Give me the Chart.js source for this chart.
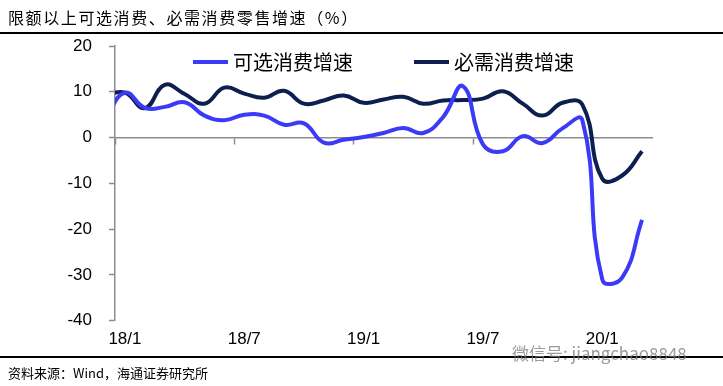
<!DOCTYPE html>
<html>
<head>
<meta charset="utf-8">
<script src="https://cdn.jsdelivr.net/npm/chart.js@4.4.1/dist/chart.umd.min.js"></script>
<style>
  body { margin: 0; background: #fff; }
  #wrap { position: relative; width: 723px; height: 386px; overflow: hidden; }
  #chart { position: absolute; left: 0; top: 0; }
  .title { position: absolute; left: 8px; top: 5px; font: 16px "Noto Sans CJK SC"; letter-spacing: 1.6px; color: #000; }
  .rule { position: absolute; left: 0; width: 723px; height: 0; border-top: 2px solid #000; }
  .source { position: absolute; left: 8px; top: 363px; font: 13px "Noto Sans CJK SC"; color: #000; }
  .mark { position: absolute; left: 512px; top: 340px; font: 17px "Noto Sans CJK SC"; color: rgba(120,120,120,0.75); }
</style>
</head>
<body>
<div id="wrap">
  <canvas id="chart" width="723" height="386"></canvas>
  <div class="title">限额以上可选消费、必需消费零售增速（%）</div>
  <div class="rule" style="top:32px"></div>
  <div class="rule" style="top:356px"></div>
  <div class="source">资料来源：Wind，海通证券研究所</div>
  <div class="mark">微信号: jiangchao8848</div>
</div>
<script>
// monthly, first entry (17/12) sits just left of the axis and gets clipped
var months = ["17/12",
  "18/1", "18/2", "18/3", "18/4", "18/5", "18/6", "18/7", "18/8", "18/9", "18/10", "18/11", "18/12",
  "19/1", "19/2", "19/3", "19/4", "19/5", "19/6", "19/7", "19/8", "19/9", "19/10", "19/11", "19/12",
  "20/1", "20/2", "20/3"];
var optionalGrowth = [4.0,
  9.8, 6.5, 6.7, 7.7, 4.8, 3.8, 5.0, 4.8, 2.8, 3.1, -1.1, -0.5,
  0.1, 1.0, 2.1, 1.0, 4.5, 11.2, -1.5, -3.0, 0.3, -1.2, 2.0, 3.8,
  -31.0, -30.6, -18.0];
var necessaryGrowth = [9.3,
  9.8, 6.4, 11.5, 9.5, 7.4, 10.9, 9.6, 8.7, 10.2, 7.4, 8.1, 9.2,
  7.6, 8.3, 8.9, 7.4, 8.1, 8.2, 8.5, 10.1, 7.4, 4.8, 7.6, 7.2,
  -9.0, -8.3, -3.0];
var yTicks = [-40, -30, -20, -10, 0, 10, 20];

var axisGray = '#8c8c8c';
var tickFont = { family: 'Arial, "Liberation Sans"', size: 17 };

// legend drawn inside the plot, centred near the top
var innerLegend = {
    id: 'innerLegend',
    afterDatasetsDraw: function (chart) {
        var ctx = chart.ctx;
        var area = chart.chartArea;
        var sets = chart.data.datasets;
        var sample = 35, gap = 5, between = 61;
        ctx.save();
        ctx.font = '20px "Noto Sans CJK SC"';
        var widths = sets.map(function (ds) { return sample + gap + ctx.measureText(ds.label).width; });
        var total = widths.reduce(function (a, b) { return a + b; }, 0) + between * (sets.length - 1);
        var x = (area.left + area.right) / 2 - total / 2;
        var y = area.top + 16;
        sets.forEach(function (ds, i) {
            ctx.strokeStyle = ds.borderColor;
            ctx.lineWidth = 4;
            ctx.beginPath();
            ctx.moveTo(x, y);
            ctx.lineTo(x + sample, y);
            ctx.stroke();
            ctx.fillStyle = '#000';
            ctx.textBaseline = 'middle';
            ctx.fillText(ds.label, x + sample + gap, y);
            x += widths[i] + between;
        });
        ctx.restore();
    }
};

var ctx = document.getElementById('chart').getContext('2d');
var chart = new Chart(ctx, {
    type: 'line',
    data: {
        labels: months,
        datasets: [{
            label: '可选消费增速',
            data: optionalGrowth,
            borderColor: '#3b3bf7',
            borderWidth: 4,
            tension: 0.45,
            pointRadius: 0,
            fill: false
        }, {
            label: '必需消费增速',
            data: necessaryGrowth,
            borderColor: '#0d1f4f',
            borderWidth: 4,
            tension: 0.45,
            pointRadius: 0,
            fill: false
        }]
    },
    options: {
        responsive: false,
        animation: false,
        layout: { padding: { top: 46, right: 71, bottom: 35, left: 0 } },
        plugins: {
            legend: { display: false },
            tooltip: { enabled: false }
        },
        scales: {
            // zero line with the half-year tick marks
            x: {
                type: 'category',
                position: { y: 0 },
                min: '18/1',
                offset: true,
                border: { color: axisGray, width: 1.5 },
                grid: {
                    offset: true,
                    drawOnChartArea: false,
                    drawTicks: true,
                    tickLength: 6,
                    tickWidth: 1.5,
                    tickColor: function (c) {
                        if (!c.tick) return 'rgba(0,0,0,0)';
                        return (c.tick.value - 1) % 6 === 0 ? axisGray : 'rgba(0,0,0,0)';
                    }
                },
                ticks: { display: false, autoSkip: false }
            },
            // month labels at the bottom
            x2: {
                type: 'category',
                position: 'bottom',
                min: '18/1',
                offset: true,
                border: { display: false },
                grid: { display: false },
                ticks: {
                    autoSkip: false,
                    maxRotation: 0,
                    padding: 1,
                    color: '#000',
                    font: tickFont,
                    callback: function (value) {
                        return (value - 1) % 6 === 0 ? months[value] : '';
                    }
                }
            },
            y: {
                min: -40,
                max: 20,
                afterFit: function (scale) { scale.width = 115; },
                afterBuildTicks: function (scale) {
                    scale.ticks = yTicks.map(function (v) { return { value: v }; });
                },
                border: { color: axisGray, width: 1.5 },
                grid: {
                    drawOnChartArea: false,
                    drawTicks: true,
                    tickLength: 6,
                    tickWidth: 1.5,
                    tickColor: axisGray
                },
                ticks: { padding: 17, color: '#000', font: tickFont }
            }
        }
    },
    plugins: [innerLegend]
});
</script>
</body>
</html>
